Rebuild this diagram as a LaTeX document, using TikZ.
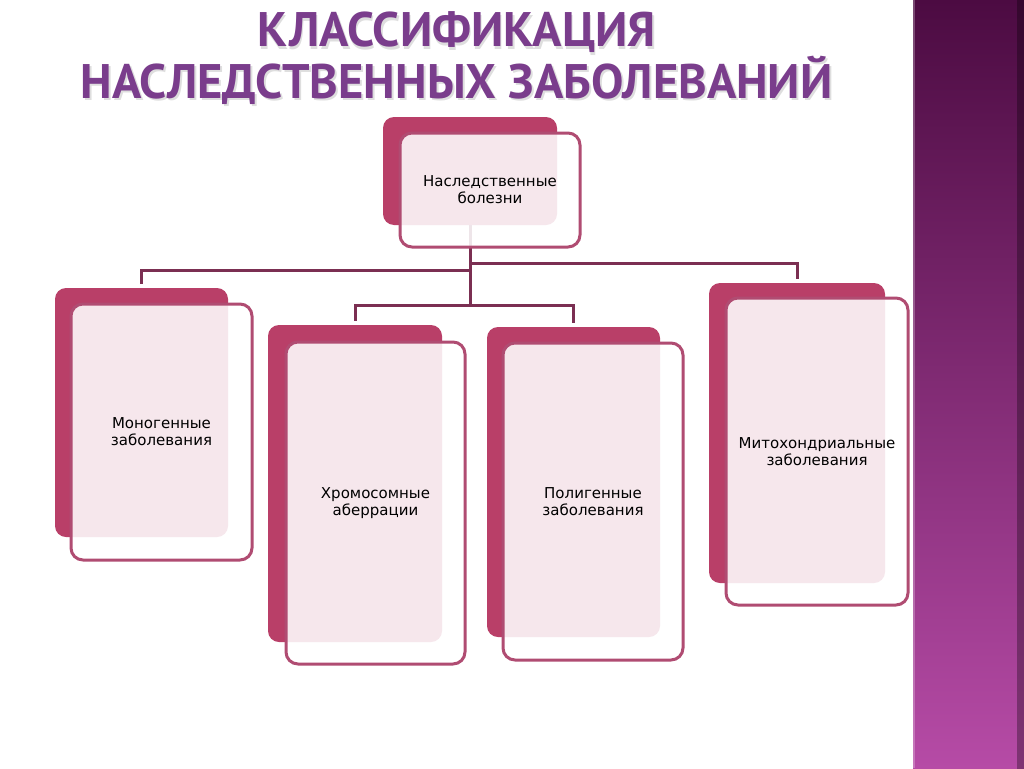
\documentclass[tikz,border=0pt]{standalone}
\usepackage{fontspec}
\setmainfont{DejaVu Sans}
\newfontfamily\titlefont{PT Sans}
\pgfdeclarelayer{bglayer}
\pgfdeclarelayer{connlayer}
\pgfsetlayers{bglayer,connlayer,main}
\definecolor{backc}{HTML}{B93F68}
\definecolor{framec}{HTML}{B04C72}
\definecolor{connc}{HTML}{7B2F52}
\definecolor{titlec}{HTML}{7A3D8C}
\definecolor{striptop}{HTML}{4C0B42}
\definecolor{stripbot}{HTML}{B64BA6}
\tikzset{
  backbox/.style={fill=backc, rounded corners=11pt, inner sep=0pt},
  frontbox/.style={draw=framec, line width=3pt, fill=white, fill opacity=0.88, text opacity=1,
    rounded corners=12pt, align=center, inner sep=0pt,
    font=\fontsize{15}{17}\selectfont, text=black},
  conn/.style={draw=connc, line width=3pt, shorten >=4pt},
  titletext/.style={font=\titlefont\bfseries\fontsize{48.5}{50}\selectfont, text=titlec, anchor=base, inner sep=0pt},
  titleshadow/.style={font=\titlefont\bfseries\fontsize{48.5}{50}\selectfont, text=black, text opacity=0.13, anchor=base, inner sep=0pt}
}
\begin{document}
\begin{tikzpicture}[x=1pt,y=-1pt]
\useasboundingbox (0,0) rectangle (1024,768);
\begin{pgfonlayer}{bglayer}
  \fill[white] (0,0) rectangle (1024,768);
  \shade[top color=striptop, bottom color=stripbot] (913,0) rectangle (1024,768);
  \fill[white, opacity=0.25] (913,0) rectangle (915,768);
  \shade[left color=black, right color=black, opacity=0.3] (1017,0) rectangle (1024,768);
\end{pgfonlayer}

% title
\node[titleshadow] at (458,49) {КЛАССИФИКАЦИЯ};
\node[titletext] (t1) at (456.5,47) {КЛАССИФИКАЦИЯ};
\node[titleshadow] at (458.5,100) {НАСЛЕДСТВЕННЫХ ЗАБОЛЕВАНИЙ};
\node[titletext] (t2) at (456.5,98) {НАСЛЕДСТВЕННЫХ ЗАБОЛЕВАНИЙ};

% back boxes
\node[backbox, minimum width=174pt, minimum height=108pt] (b0) at (470,171) {};
\node[backbox, minimum width=173pt, minimum height=249pt] (b1) at (141.5,412.5) {};
\node[backbox, minimum width=174pt, minimum height=317pt] (b2) at (355,483.5) {};
\node[backbox, minimum width=173pt, minimum height=310pt] (b3) at (573.5,482) {};
\node[backbox, minimum width=176pt, minimum height=300pt] (b4) at (797,433) {};

% front boxes
\node[frontbox, minimum width=180pt, minimum height=114pt] (f0) at (490,190) {Наследственные\\болезни};
\node[frontbox, minimum width=181pt, minimum height=256pt] (f1) at (161.5,432) {Моногенные\\заболевания};
\node[frontbox, minimum width=179pt, minimum height=322pt] (f2) at (375.5,503) {Хромосомные\\аберрации};
\node[frontbox, minimum width=180pt, minimum height=317pt] (f3) at (593,501.5) {Полигенные\\заболевания};
\node[frontbox, minimum width=182pt, minimum height=307pt] (f4) at (817,451.5) {Митохондриальные\\заболевания};

% connectors
\begin{pgfonlayer}{connlayer}
  \draw[conn, shorten >=0pt] (b0.south) -- (b0.south |- 0,305);
  \draw[conn] (b0.south |- 0,305) -| (b2.north);
  \draw[conn] (b0.south |- 0,305) -| (b3.north);
  \draw[conn] (b0.south |- 0,270) -| (b1.north);
  \draw[conn] (b0.south |- 0,263) -| (b4.north);
\end{pgfonlayer}
\end{tikzpicture}
\end{document}
